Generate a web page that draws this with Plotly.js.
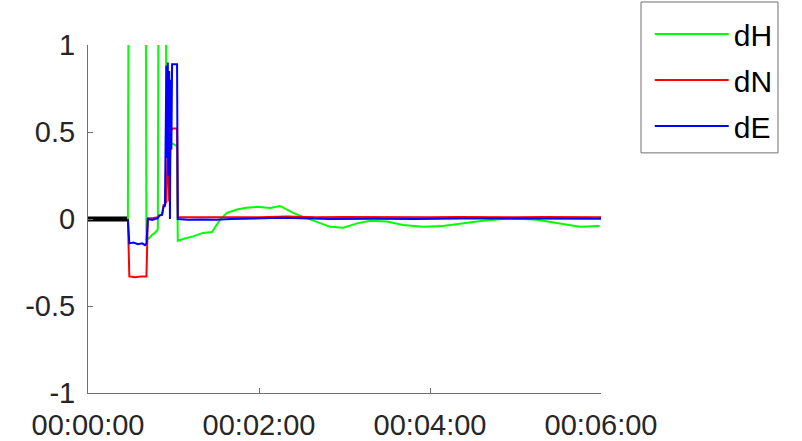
<!DOCTYPE html>
<html>
<head>
<meta charset="utf-8">
<script src="https://cdn.plot.ly/plotly-3.0.1.min.js"></script>
<style>html,body{margin:0;padding:0;background:#fff;}#chart{width:802px;height:441px;}</style>
</head>
<body>
<div id="chart"></div>
<script>
// time in seconds from start
const tickVals = [0, 120, 240, 360];
const tickLabels = ["00:00:00", "00:02:00", "00:04:00", "00:06:00"];
const yTickVals = [-1, -0.5, 0, 0.5, 1];
const yTickLabels = ["-1", "-0.5", "0", "0.5", "1"];

const tInit = [0, 28];
const yInit = [0, 0];

const tH = [28, 29, 40, 41, 43, 45, 47, 49, 50, 54, 55, 56, 58, 60, 62, 62.5, 63, 66.7, 73.7, 80.7, 87, 92.6, 97.5, 104.6, 111, 118.6, 127.7, 134.7, 144, 151, 160.7, 170, 179, 188.8, 198, 209.8, 221, 235, 249, 263, 277, 291, 305, 315, 326, 338, 345, 359];
const dH = [0, 3, 3, -0.12, -0.11, -0.09, -0.08, -0.06, 3, 3, 0.46, 0.45, 0.44, 0.43, 0.42, 0.41, -0.125, -0.115, -0.10, -0.08, -0.075, -0.005, 0.035, 0.055, 0.065, 0.07, 0.063, 0.075, 0.035, 0.012, -0.015, -0.045, -0.05, -0.025, -0.01, -0.015, -0.035, -0.045, -0.04, -0.025, -0.01, 0.0, 0.0, -0.005, -0.02, -0.035, -0.045, -0.04];

const tN = [28, 29, 33, 37, 41, 42, 45, 49, 50, 52, 53, 54, 55, 56, 57, 58, 59, 62.5, 63, 70, 80, 90, 100, 120, 140, 160, 180, 200, 220, 240, 260, 280, 300, 320, 340, 360];
const dN = [0, -0.33, -0.335, -0.33, -0.33, 0.005, 0.005, 0.01, 0.02, 0.025, 0.08, 0.08, 0.1, 0.45, 0.1, 0.5, 0.52, 0.52, 0.01, 0.01, 0.012, 0.01, 0.012, 0.01, 0.015, 0.01, 0.012, 0.01, 0.012, 0.01, 0.012, 0.01, 0.01, 0.012, 0.01, 0.01];

const tE = [28, 29, 32, 35, 38, 40, 41, 42, 45, 49, 50, 52, 53, 54, 55, 55.5, 56, 56.5, 57, 57.5, 58, 58.5, 59, 62.5, 63, 70, 80, 90, 100, 120, 135, 150, 170, 200, 230, 260, 290, 320, 340, 360];
const dE = [0, -0.14, -0.135, -0.145, -0.14, -0.15, -0.14, 0.0, -0.005, 0.005, 0.02, 0.025, 0.07, 0.075, 0.88, 0.35, 0.9, 0.25, 0.85, 0.0, 0.8, 0.4, 0.89, 0.89, 0.0, -0.005, -0.003, -0.004, 0.0, 0.006, 0.007, 0.004, 0.0, 0.002, 0.0, 0.003, 0.002, 0.0, 0.003, 0.002];

const font = {family: "Liberation Sans, Arial, sans-serif", size: 29, color: "#262626"};

const traces = [
  {x: tInit, y: yInit, mode: "lines", line: {color: "#000000", width: 5}, showlegend: false, hoverinfo: "skip"},
  {x: tH, y: dH, name: "dH", legendgroup: "h", mode: "lines", line: {color: "#00ff00", width: 2}},
  {x: tN, y: dN, name: "dN", legendgroup: "n", mode: "lines", line: {color: "#ff0000", width: 2}},
  {x: tE, y: dE, name: "dE", legendgroup: "e", mode: "lines", line: {color: "#0000ff", width: 2}}
];

const layout = {
  width: 802, height: 441,
  margin: {l: 88, r: 201, t: 45, b: 48, autoexpand: false},
  paper_bgcolor: "#ffffff", plot_bgcolor: "#ffffff",
  font: font,
  showlegend: true,
  legend: {
    x: 1.095, y: 1.106, xanchor: "left", yanchor: "top",
    borderwidth: 0, bgcolor: "rgba(0,0,0,0)",
    font: {family: font.family, size: 30, color: "#000000"},
    itemwidth: 74, tracegroupgap: 4, traceorder: "grouped"
  },
  shapes: [{
    type: "rect", xref: "paper", yref: "paper",
    x0: 1.078, x1: 1.345, y0: 0.690, y1: 1.1236,
    line: {color: "#707070", width: 1}, fillcolor: "rgba(0,0,0,0)"
  }],
  xaxis: {
    range: [0, 360], tickmode: "array", tickvals: tickVals, ticktext: tickLabels,
    showgrid: false, zeroline: false, showline: true, linecolor: "#707070", linewidth: 1,
    ticks: "inside", ticklen: 5, tickcolor: "#707070", ticklabelstandoff: 6,
    tickfont: font, mirror: false
  },
  yaxis: {
    range: [-1, 1], tickmode: "array", tickvals: yTickVals, ticktext: yTickLabels,
    showgrid: false, zeroline: false, showline: true, linecolor: "#707070", linewidth: 1,
    ticks: "inside", ticklen: 5, tickcolor: "#707070", ticklabelstandoff: 6,
    tickfont: font
  }
};

Plotly.newPlot("chart", traces, layout, {staticPlot: true, displayModeBar: false});
</script>
</body>
</html>
